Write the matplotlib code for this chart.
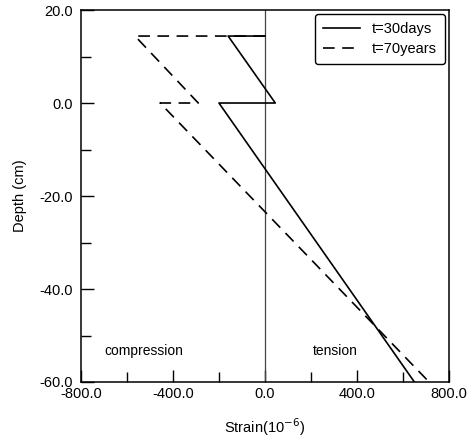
import numpy as np
from matplotlib import pyplot as plt
from matplotlib.ticker import MultipleLocator, FormatStrFormatter
from matplotlib.transforms import ScaledTranslation

# t=30days profile
strain_30d = [0, -160, 45, -200, 650]
depth_30d = [14.4, 14.4, 0, 0, -60]

# t=70years profile
strain_70y = [0, -565, -290, -456, 714]
depth_70y = [14.4, 14.4, 0, 0, -60]

plt.rcParams['font.family'] = ['Liberation Sans', 'DejaVu Sans']

fig = plt.figure(figsize=(4.75, 4.43), dpi=100)
ax = fig.add_axes([0.1705, 0.1377, 0.7745, 0.8397])

ax.axvline(0, color="#444444", linewidth=0.9)
ax.plot(strain_30d, depth_30d, "-", color="black", linewidth=1.2, label="t=30days")
ax.plot(strain_70y, depth_70y, "--", color="black", linewidth=1.2,
        dashes=(7, 4.5), label="t=70years")

ax.set_xlim(-800, 800)
ax.set_ylim(-60, 20)
ax.xaxis.set_major_locator(MultipleLocator(400))
ax.xaxis.set_minor_locator(MultipleLocator(200))
ax.yaxis.set_major_locator(MultipleLocator(20))
ax.yaxis.set_minor_locator(MultipleLocator(10))
ax.xaxis.set_major_formatter(FormatStrFormatter('%.1f'))
ax.yaxis.set_major_formatter(FormatStrFormatter('%.1f'))
ax.tick_params(which='major', direction='in', length=9, width=1, labelsize=10.5,
               top=False, right=False)
ax.tick_params(which='minor', direction='in', length=7, width=1, top=False, right=False)
ax.tick_params(axis='x', pad=3.5)
ax.tick_params(axis='y', pad=6)
for s in ax.spines.values():
    s.set_linewidth(1.1)

# nudge lowest y label up a little so it clears -800.0
fig.canvas.draw()
ylabs = ax.get_yticklabels()
ylabs[0].set_transform(ylabs[0].get_transform() + ScaledTranslation(0, 3 / 72, fig.dpi_scale_trans))

ax.text(-526, -53.3, "compression", ha="center", va="center", fontsize=10)
ax.text(304, -53.3, "tension", ha="center", va="center", fontsize=10)

ax.set_xlabel("Strain(10$^{-6}$)", fontsize=10.5, labelpad=11)
ax.set_ylabel("Depth (cm)", fontsize=10.5, labelpad=9)

leg = ax.legend(loc="upper right", fontsize=10.5, handlelength=2.5, frameon=True,
                fancybox=True, edgecolor="black", framealpha=1,
                borderaxespad=0.3, labelspacing=0.4, borderpad=0.55,
                handletextpad=0.8)
leg.get_frame().set_linewidth(1.0)

fig.savefig("out.png", dpi=100)
